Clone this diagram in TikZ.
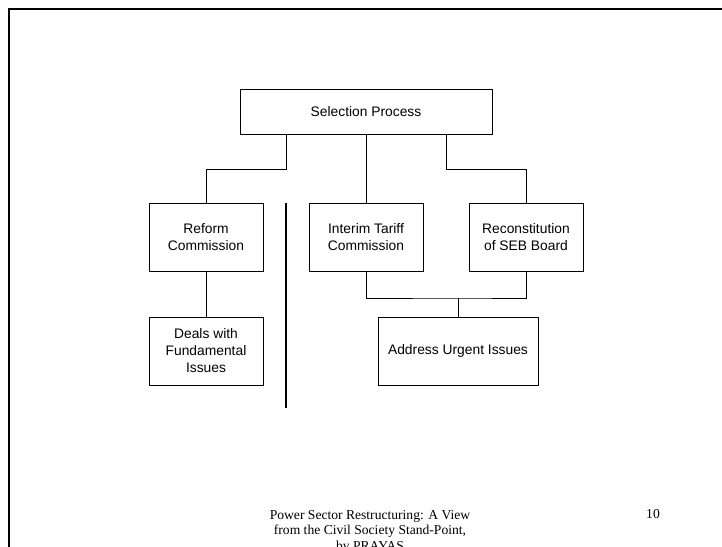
\documentclass[tikz,border=0pt]{standalone}
\usepackage{fontspec}
\setmainfont{Liberation Serif}
\setsansfont{Liberation Sans}
\usetikzlibrary{positioning}

\tikzset{
  box/.style={draw, line width=0.6pt, align=center, font=\sffamily\fontsize{11.8}{14.5}\selectfont, inner sep=0pt},
  link/.style={line width=0.6pt},
  footer/.style={align=center, font=\fontsize{11.6}{13.4}\selectfont, inner sep=0pt}
}

\begin{document}
\begin{tikzpicture}[x=0.03cm, y=-0.03cm]
  \useasboundingbox (0,0) rectangle (722,546);
  \clip (0,0) rectangle (722,546);
  % slide frame
  \draw[line width=1.6pt] (9,600) -- (9,9) -- (760,9);

  % boxes
  \node[box, minimum width=252*0.03cm, minimum height=45*0.03cm] (sel) at (366,112) {Selection Process};
  \node[box, minimum width=114*0.03cm, minimum height=68*0.03cm] (reform) at (206,237) {Reform\\Commission};
  \node[box, minimum width=114*0.03cm, minimum height=68*0.03cm] (tariff) at (366,237) {Interim Tariff\\Commission};
  \node[box, minimum width=114*0.03cm, minimum height=68*0.03cm] (seb) at (526,237) {Reconstitution\\of SEB Board};
  \node[box, minimum width=114*0.03cm, minimum height=68*0.03cm] (deals) at (206,351) {Deals with\\Fundamental\\Issues};
  \node[box, minimum width=160*0.03cm, minimum height=68*0.03cm] (urgent) at (458,351) {Address Urgent Issues};

  % connectors
  \coordinate (forkL) at (286,169);
  \coordinate (forkR) at (446,169);
  \coordinate (join) at (458,298);
  \draw[link] (sel.south -| forkL) -- (forkL) -| (reform.north);
  \draw[link] (sel.south) -- (tariff.north);
  \draw[link] (sel.south -| forkR) -- (forkR) -| (seb.north);
  \draw[link] (reform) -- (deals);
  \draw[link] (tariff.south) |- (join) -| (seb.south);
  \draw[link] (join) -- (urgent.north);

  % divider
  \coordinate (divTop) at (286,203);
  \coordinate (divBot) at (286,408);
  \draw[line width=1.3pt] (divTop) -- (divBot);

  % footer
  \node[footer, anchor=north] (title) at (370,510) {Power Sector Restructuring: A View\\from the Civil Society Stand-Point,\\by PRAYAS};
  \node[footer, anchor=base] (page) at (653,518) {10};
\end{tikzpicture}
\end{document}
